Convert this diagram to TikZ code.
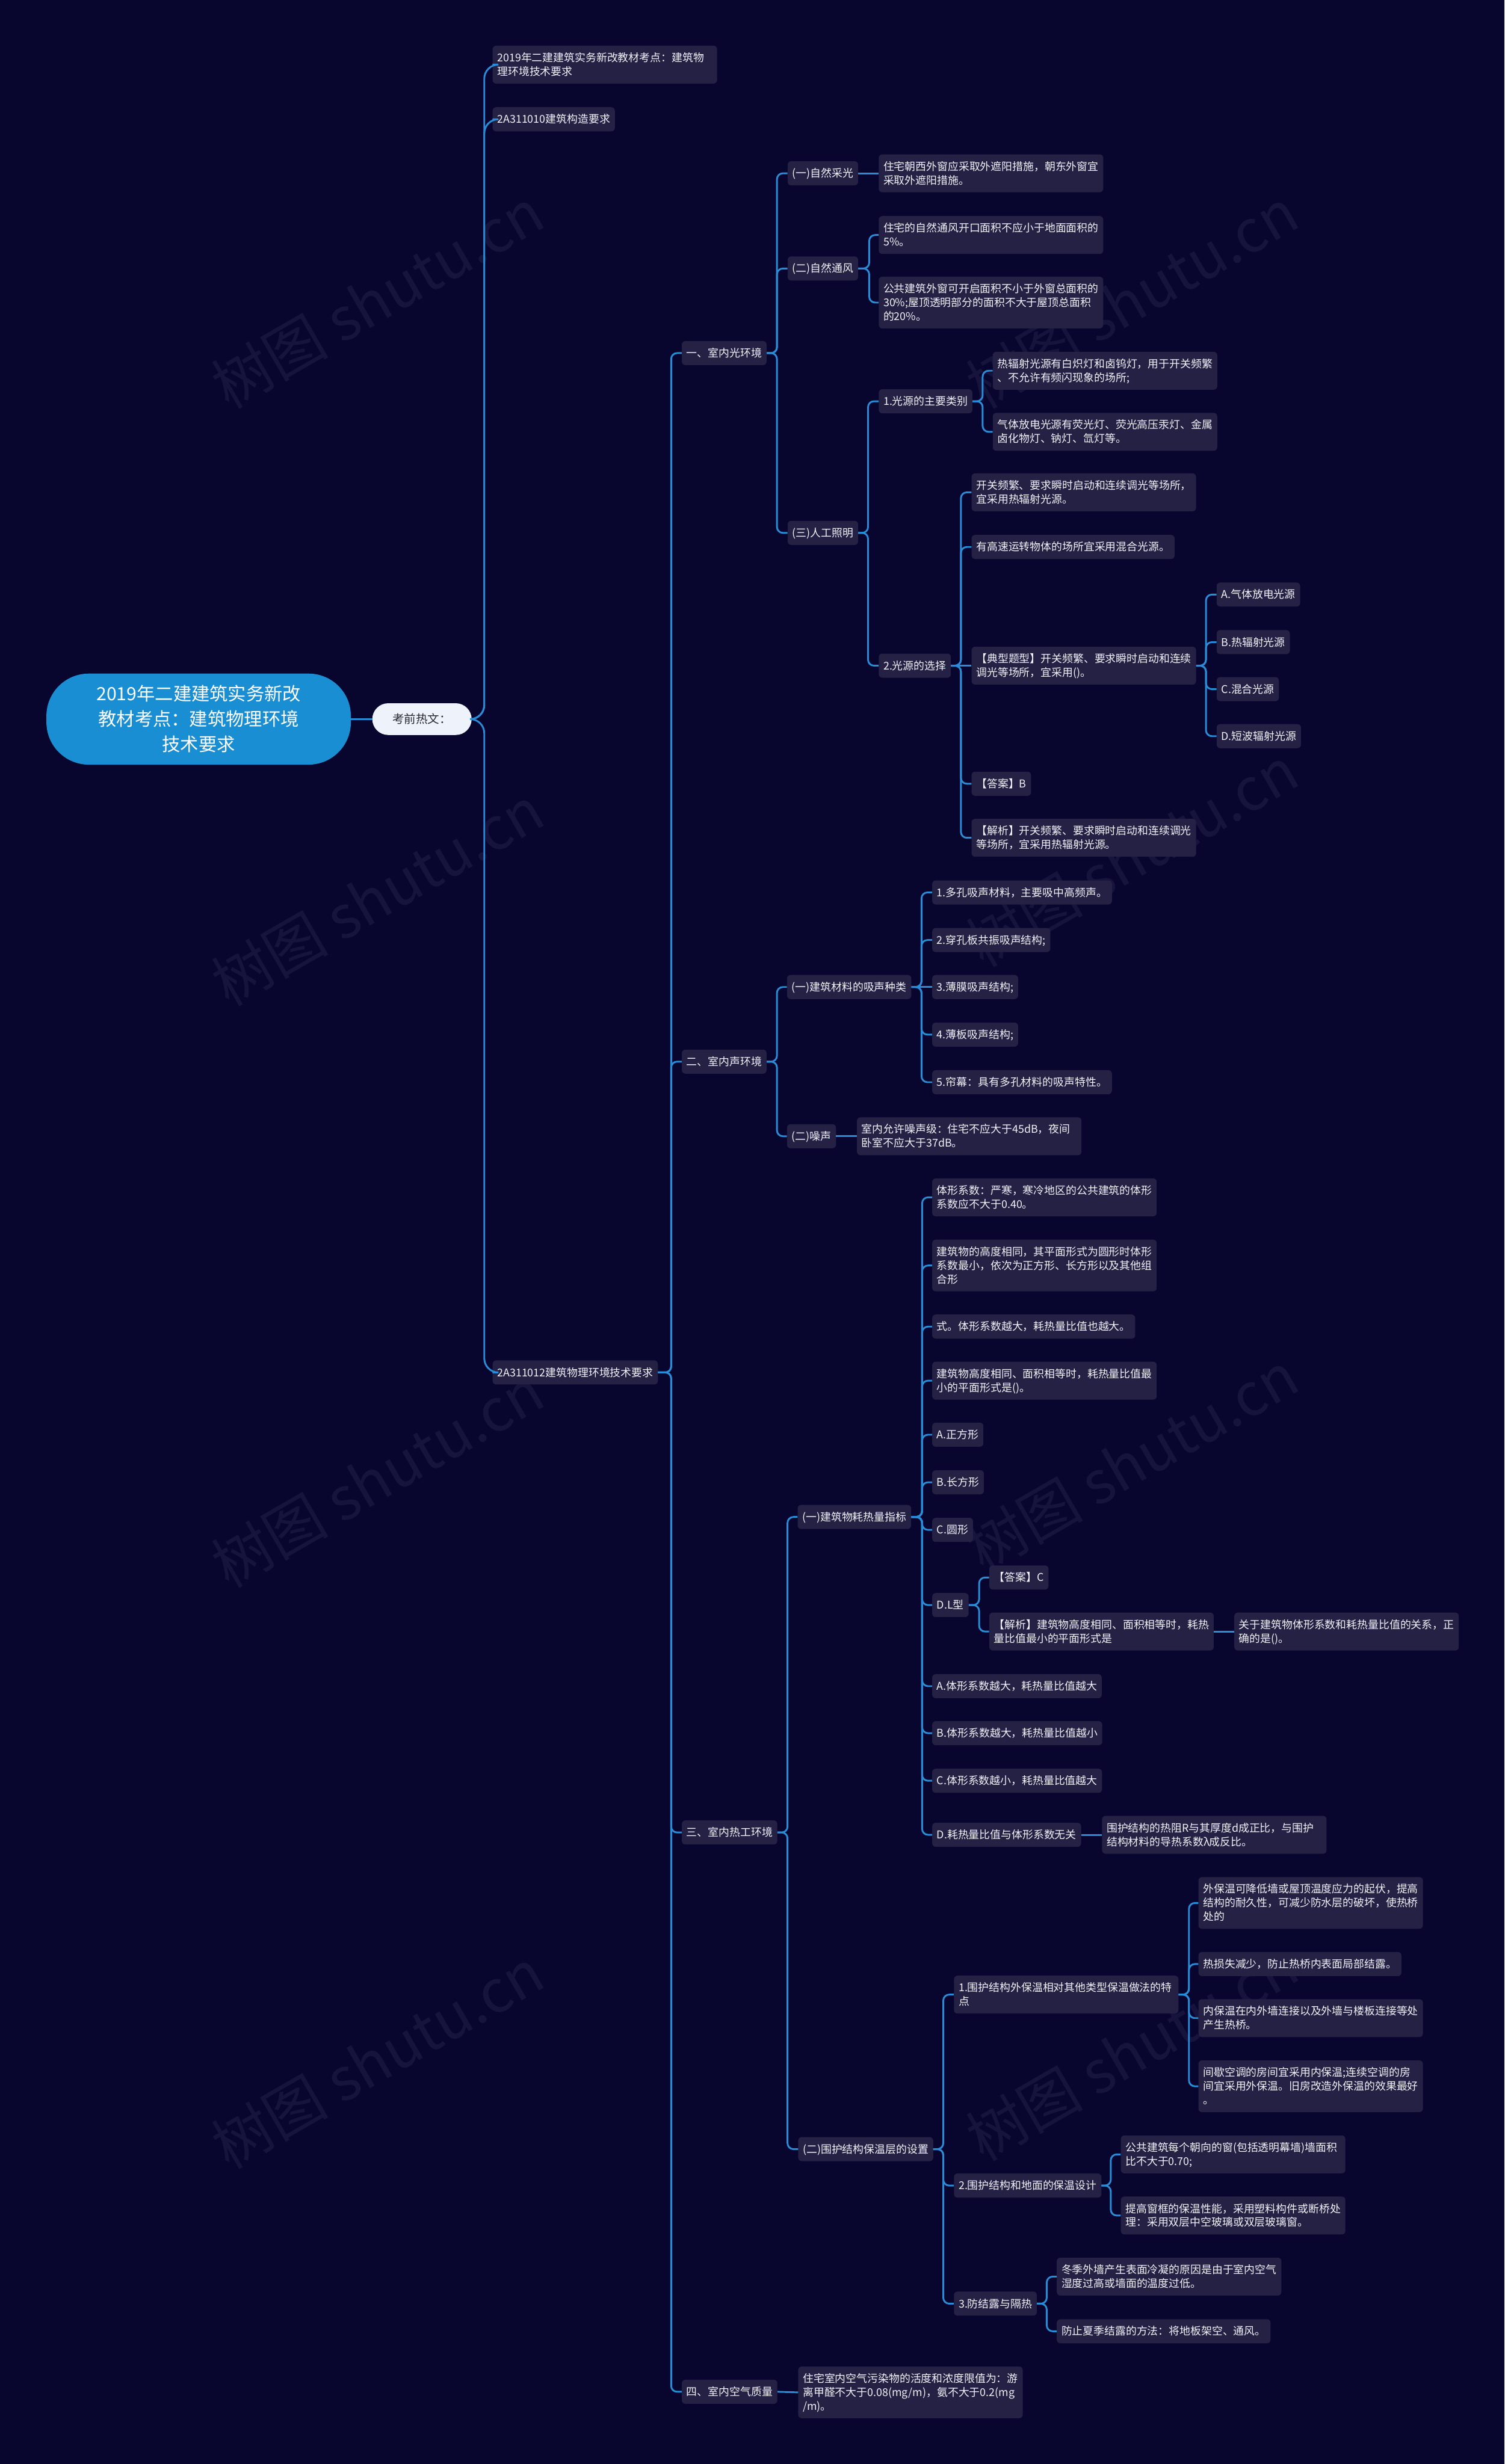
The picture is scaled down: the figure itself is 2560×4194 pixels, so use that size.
\documentclass[tikz,border=0pt]{standalone}
\usepackage{fontspec}
\setmainfont{Noto Sans CJK SC}
\definecolor{bgc}{RGB}{8,5,46}
\definecolor{nodec}{RGB}{37,33,68}
\definecolor{linkc}{RGB}{40,140,215}
\definecolor{rootc}{RGB}{26,142,210}
\definecolor{kqc}{RGB}{238,243,251}
\definecolor{txtc}{RGB}{242,242,248}
\definecolor{wmc}{RGB}{22,19,60}
\newcommand\sst{\rule[-4pt]{0pt}{21.5pt}}
\newcommand\lk[3]{\draw[link] (#1.east) -- (#1.east -| #2) |- (#3.west);}
\newcommand\st[2]{\draw[link] (#1.east) -- (#2.west);}
\begin{document}
\begin{tikzpicture}[x=1pt,y=-1pt,
  box/.style={fill=nodec, rounded corners=6pt, text=txtc, font=\fontsize{18.3}{23.5}\selectfont,
    align=left, inner xsep=8pt, inner ysep=9.75pt, anchor=west,
    execute at begin node=\sst, execute at end node=\sst},
  wide/.style={box, text width=366pt},
  link/.style={draw=linkc, line width=3pt, rounded corners=10pt},
  wm/.style={text=wmc, font=\fontsize{100}{100}\selectfont, rotate=30}]
\fill[bgc] (0,0) rectangle (2560,4194);
\useasboundingbox (0,0) rectangle (2560,4194);
% watermarks
\foreach \wx/\wy [count=\i] in {642/508,642/1525,642/2515,642/3504,1926/508,1926/1458,1926/2488,1926/3491}
  \node[wm] (wm\i) at (\wx,\wy) {树图 shutu.cn};
% root
\node[fill=rootc, text=white, font=\fontsize{31}{43}\selectfont, align=center,
  minimum width=518pt, minimum height=155pt, rounded corners=72pt, inner sep=0pt]
  (root) at (338,1224) {2019年二建建筑实务新改\\教材考点：建筑物理环境\\技术要求};
\node[fill=kqc, text={rgb,255:red,40;green,40;blue,50}, font=\fontsize{20}{24}\selectfont,
  minimum width=169pt, minimum height=54pt, rounded corners=27pt, inner sep=0pt]
  (kq) at (718,1224) {考前热文：};
% coordinates of vertical lines
\coordinate (vk) at (824,0);
\coordinate (vn) at (1142,0);
\coordinate (vs1) at (1322,0);
\coordinate (va2) at (1479,0);
\coordinate (va3) at (1477,0);
\coordinate (vb1) at (1672,0);
\coordinate (vb2) at (1635,0);
\coordinate (vc3) at (2052,0);
\coordinate (vs2) at (1322,0);
\coordinate (ve1) at (1568,0);
\coordinate (vs3) at (1340,0);
\coordinate (vg1) at (1569,0);
\coordinate (vh8) at (1666,0);
\coordinate (vg2) at (1605,0);
\coordinate (vj1) at (2023,0);
\coordinate (vj2) at (1890,0);
\coordinate (vj3) at (1781,0);
% level 1
\node[wide] (n1) at (838,110) {2019年二建建筑实务新改教材考点：建筑物\\理环境技术要求};
\node[box] (n2) at (838,203) {2A311010建筑构造要求};
\node[box] (n3) at (838,2336) {2A311012建筑物理环境技术要求};
% level 2
\node[box] (s1) at (1160,601) {一、室内光环境};
\node[box] (s2) at (1160,1807) {二、室内声环境};
\node[box] (s3) at (1160,3119) {三、室内热工环境};
\node[box] (s4) at (1160,4071) {四、室内空气质量};
% s1
\node[box] (a1) at (1340,295) {(一)自然采光};
\node[box] (a2) at (1340,457) {(二)自然通风};
\node[box] (a3) at (1340,907) {(三)人工照明};
\node[wide] (a1l) at (1495,295) {住宅朝西外窗应采取外遮阳措施，朝东外窗宜\\采取外遮阳措施。};
\node[wide] (a2l1) at (1495,400) {住宅的自然通风开口面积不应小于地面面积的\\5\%。};
\node[wide] (a2l2) at (1495,515) {公共建筑外窗可开启面积不小于外窗总面积的\\30\%;屋顶透明部分的面积不大于屋顶总面积\\的20\%。};
\node[box] (b1) at (1495,683) {1.光源的主要类别};
\node[box] (b2) at (1495,1133) {2.光源的选择};
\node[wide] (b1l1) at (1689,631) {热辐射光源有白炽灯和卤钨灯，用于开关频繁\\、不允许有频闪现象的场所;};
\node[wide] (b1l2) at (1689,735) {气体放电光源有荧光灯、荧光高压汞灯、金属\\卤化物灯、钠灯、氙灯等。};
\node[wide] (c1) at (1653,838) {开关频繁、要求瞬时启动和连续调光等场所，\\宜采用热辐射光源。};
\node[box] (c2) at (1653,931) {有高速运转物体的场所宜采用混合光源。};
\node[wide] (c3) at (1653,1133) {【典型题型】开关频繁、要求瞬时启动和连续\\调光等场所，宜采用()。};
\node[box] (c4) at (1653,1334) {【答案】B};
\node[wide] (c5) at (1653,1426) {【解析】开关频繁、要求瞬时启动和连续调光\\等场所，宜采用热辐射光源。};
\node[box] (d1) at (2070,1012) {A.气体放电光源};
\node[box] (d2) at (2070,1093) {B.热辐射光源};
\node[box] (d3) at (2070,1173) {C.混合光源};
\node[box] (d4) at (2070,1253) {D.短波辐射光源};
% s2
\node[box] (e1) at (1339,1680) {(一)建筑材料的吸声种类};
\node[box] (e2) at (1339,1934) {(二)噪声};
\node[box] (f1) at (1586,1519) {1.多孔吸声材料，主要吸中高频声。};
\node[box] (f2) at (1586,1600) {2.穿孔板共振吸声结构;};
\node[box] (f3) at (1586,1680) {3.薄膜吸声结构;};
\node[box] (f4) at (1586,1761) {4.薄板吸声结构;};
\node[box] (f5) at (1586,1842) {5.帘幕：具有多孔材料的吸声特性。};
\node[wide] (e2l) at (1458,1934) {室内允许噪声级：住宅不应大于45dB，夜间\\卧室不应大于37dB。};
% s3
\node[box] (g1) at (1357,2582) {(一)建筑物耗热量指标};
\node[box] (g2) at (1358,3658) {(二)围护结构保温层的设置};
\node[wide] (h1) at (1586,2038) {体形系数：严寒，寒冷地区的公共建筑的体形\\系数应不大于0.40。};
\node[wide] (h2) at (1586,2154) {建筑物的高度相同，其平面形式为圆形时体形\\系数最小，依次为正方形、长方形以及其他组\\合形};
\node[box] (h3) at (1586,2258) {式。体形系数越大，耗热量比值也越大。};
\node[wide] (h4) at (1586,2350) {建筑物高度相同、面积相等时，耗热量比值最\\小的平面形式是()。};
\node[box] (h5) at (1586,2442) {A.正方形};
\node[box] (h6) at (1586,2523) {B.长方形};
\node[box] (h7) at (1586,2604) {C.圆形};
\node[box] (h8) at (1586,2732) {D.L型};
\node[box] (h9) at (1586,2870) {A.体形系数越大，耗热量比值越大};
\node[box] (h10) at (1586,2950) {B.体形系数越大，耗热量比值越小};
\node[box] (h11) at (1586,3031) {C.体形系数越小，耗热量比值越大};
\node[box] (h12) at (1586,3123) {D.耗热量比值与体形系数无关};
\node[box] (i1) at (1683,2685) {【答案】C};
\node[wide] (i2) at (1683,2777) {【解析】建筑物高度相同、面积相等时，耗热\\量比值最小的平面形式是};
\node[wide] (i2l) at (2100,2777) {关于建筑物体形系数和耗热量比值的关系，正\\确的是()。};
\node[wide] (h12l) at (1875,3123) {围护结构的热阻R与其厚度d成正比，与围护\\结构材料的导热系数λ成反比。};
\node[wide] (j1) at (1623,3395) {1.围护结构外保温相对其他类型保温做法的特\\点};
\node[box] (j2) at (1623,3720) {2.围护结构和地面的保温设计};
\node[box] (j3) at (1623,3921) {3.防结露与隔热};
\node[wide] (k1) at (2039,3239) {外保温可降低墙或屋顶温度应力的起伏，提高\\结构的耐久性，可减少防水层的破坏，使热桥\\处的};
\node[box] (k2) at (2039,3343) {热损失减少，防止热桥内表面局部结露。};
\node[wide] (k3) at (2039,3435) {内保温在内外墙连接以及外墙与楼板连接等处\\产生热桥。};
\node[wide] (k4) at (2039,3551) {间歇空调的房间宜采用内保温;连续空调的房\\间宜采用外保温。旧房改造外保温的效果最好\\。};
\node[wide] (l1) at (1907,3667) {公共建筑每个朝向的窗(包括透明幕墙)墙面积\\比不大于0.70;};
\node[wide] (l2) at (1907,3771) {提高窗框的保温性能，采用塑料构件或断桥处\\理：采用双层中空玻璃或双层玻璃窗。};
\node[wide] (m1) at (1798,3875) {冬季外墙产生表面冷凝的原因是由于室内空气\\湿度过高或墙面的温度过低。};
\node[box] (m2) at (1798,3968) {防止夏季结露的方法：将地板架空、通风。};
% s4
\node[wide] (s4l) at (1358,4072) {住宅室内空气污染物的活度和浓度限值为：游\\离甲醛不大于0.08(mg/m)，氨不大于0.2(mg\\/m)。};
% connectors
\st{root}{kq}
\begin{scope}[link/.append style={rounded corners=24pt}]
\lk{kq}{vk}{n1}
\lk{kq}{vk}{n2}
\lk{kq}{vk}{n3}
\end{scope}
\lk{n3}{vn}{s1}
\lk{n3}{vn}{s2}
\lk{n3}{vn}{s3}
\lk{n3}{vn}{s4}
\lk{s1}{vs1}{a1}
\lk{s1}{vs1}{a2}
\lk{s1}{vs1}{a3}
\st{a1}{a1l}
\lk{a2}{va2}{a2l1}
\lk{a2}{va2}{a2l2}
\lk{a3}{va3}{b1}
\lk{a3}{va3}{b2}
\lk{b1}{vb1}{b1l1}
\lk{b1}{vb1}{b1l2}
\lk{b2}{vb2}{c1}
\lk{b2}{vb2}{c2}
\st{b2}{c3}
\lk{b2}{vb2}{c4}
\lk{b2}{vb2}{c5}
\lk{c3}{vc3}{d1}
\lk{c3}{vc3}{d2}
\lk{c3}{vc3}{d3}
\lk{c3}{vc3}{d4}
\lk{s2}{vs2}{e1}
\lk{s2}{vs2}{e2}
\lk{e1}{ve1}{f1}
\lk{e1}{ve1}{f2}
\st{e1}{f3}
\lk{e1}{ve1}{f4}
\lk{e1}{ve1}{f5}
\st{e2}{e2l}
\lk{s3}{vs3}{g1}
\lk{s3}{vs3}{g2}
\foreach \c in {h1,h2,h3,h4,h5,h6,h7,h8,h9,h10,h11,h12} {\lk{g1}{vg1}{\c}}
\lk{h8}{vh8}{i1}
\lk{h8}{vh8}{i2}
\st{i2}{i2l}
\st{h12}{h12l}
\lk{g2}{vg2}{j1}
\lk{g2}{vg2}{j2}
\lk{g2}{vg2}{j3}
\foreach \c in {k1,k2,k3,k4} {\lk{j1}{vj1}{\c}}
\lk{j2}{vj2}{l1}
\lk{j2}{vj2}{l2}
\lk{j3}{vj3}{m1}
\lk{j3}{vj3}{m2}
\st{s4}{s4l}
\end{tikzpicture}
\end{document}
